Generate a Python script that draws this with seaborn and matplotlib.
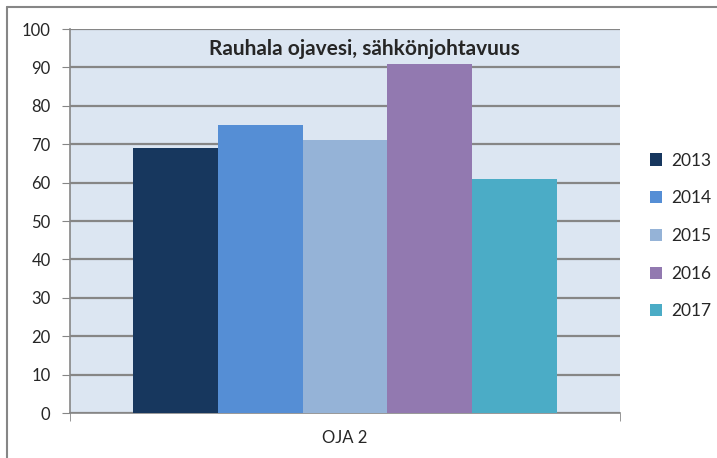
import matplotlib
matplotlib.use("Agg")
import matplotlib.pyplot as plt
import seaborn as sns
import pandas as pd
from matplotlib.lines import Line2D
from matplotlib.patches import Patch

sites = ["OJA 2"]
years = ["2013", "2014", "2015", "2016", "2017"]
values = [69, 75, 71, 91, 61]
colors = ["#17375e", "#558ed5", "#95b3d7", "#9279b0", "#4bacc6"]
title = "Rauhala ojavesi, sähkönjohtavuus"

df = pd.DataFrame({"site": sites * len(years), "year": years, "value": values})

sns.set_style("white")
plt.rcParams["font.family"] = ["Lato", "DejaVu Sans"]

fig = plt.figure(figsize=(7.17, 4.58), dpi=100)
ax = fig.add_axes([70/717, 1-413/458, 550/717, 384/458])
ax.set_facecolor("#dce6f2")

sns.barplot(data=df, x="site", y="value", hue="year", palette=colors,
            width=0.77, gap=0, ax=ax, saturation=1, legend=False, zorder=3,
            linewidth=0, edgecolor="none")

ax.set_xlim(-0.5, 0.5)
ax.set_ylim(0, 100)
ax.set_yticks(range(0, 101, 10))
ax.yaxis.grid(True, color="#868686", linewidth=1.6, zorder=0)
ax.set_axisbelow(True)
ax.set_xlabel("")
ax.set_ylabel("")
for s in ["top", "right"]:
    ax.spines[s].set_visible(False)
ax.spines["left"].set_color("#868686")
ax.spines["bottom"].set_color("#868686")
ax.spines["left"].set_linewidth(1.2)
ax.spines["bottom"].set_linewidth(1.2)
ax.tick_params(axis="y", length=6, color="#868686", labelsize=12, pad=8, left=True)
ax.set_xticks([0])
ax.set_xticklabels(sites)
ax.set_xticks([-0.5, 0.5], minor=True)
ax.tick_params(axis="x", which="major", length=0, labelsize=12, pad=12)
ax.tick_params(axis="x", which="minor", length=6, color="#868686", bottom=True)

ax.text(0.535, 0.975, title, transform=ax.transAxes, ha="center", va="top",
        fontsize=15, fontweight="bold")

handles = [Patch(facecolor=c, edgecolor="none") for c in colors]
fig.legend(handles, years, loc="center left", bbox_to_anchor=(650/717, 1-236/458),
           frameon=False, fontsize=12.5, handlelength=0.7, handleheight=0.7,
           handletextpad=0.5, labelspacing=1.25, borderpad=0, borderaxespad=0)

fig.add_artist(Line2D([7/717, 7/717], [0, 1-7/458], color="#868686", linewidth=1.5))
fig.add_artist(Line2D([7/717, 1], [1-7/458, 1-7/458], color="#868686", linewidth=1.5))

fig.savefig("out.png", dpi=100)
